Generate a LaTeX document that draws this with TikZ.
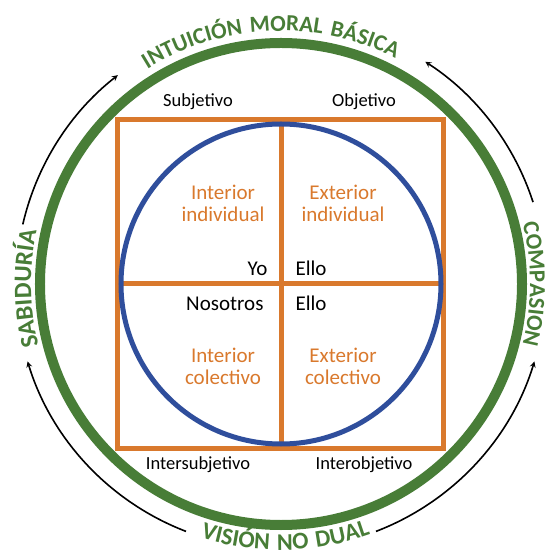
\documentclass[tikz,border=0pt]{standalone}
\usepackage{fontspec}
\setmainfont{Carlito}
\newfontfamily\ringfont[WordSpace=2.0]{Carlito}
\newfontfamily\bottomfont[WordSpace=1.4]{Carlito}
\usetikzlibrary{arrows,decorations.text}
\definecolor{ringgreen}{RGB}{72,125,55}
\definecolor{quadorange}{RGB}{217,121,45}
\definecolor{ballblue}{RGB}{47,78,156}

\begin{document}
\begin{tikzpicture}[x=1pt,y=1pt,>=stealth,
  axislabel/.style={font=\fontsize{18.5}{20}\selectfont},
  quadtext/.style={text=quadorange,align=center,font=\fontsize{21}{22}\selectfont},
  pron/.style={font=\fontsize{21}{22}\selectfont},
  flowarc/.style={->,line width=1.6pt},
  ringtext/.style 2 args={decorate,decoration={text along path,text align=center,
    text={|\ringfont\bfseries\fontsize{#1}{24}\selectfont\color{ringgreen}|#2}}}]
\useasboundingbox (-281,-272) rectangle (270,284);

% rings and quadrants
\draw[ringgreen, line width=10pt] (0,0) circle[radius=241];
\draw[quadorange, line width=5pt] (-163,-164.5) rectangle (162,164);
\draw[quadorange, line width=5pt] (0,-164.5) -- (0,164) (-163,0) -- (162,0);
\draw[ballblue, line width=5pt] (0,0) circle[radius=160];

% texts round the ring
\path[ringtext={23}{INTUICIÓN MORAL BÁSICA}] (150:253) arc[start angle=150, end angle=35, radius=253];
\path[ringtext={25}{SABIDURÍA}] (215:250) arc[start angle=215, end angle=147, radius=250];
\path[ringtext={23}{COMPASION}] (33:249) arc[start angle=33, end angle=-33, radius=249];
\path[decorate,decoration={text along path,text align=center,
  text={|\bottomfont\bfseries\fontsize{24}{24}\selectfont\color{ringgreen}|VISIÓN NO DUAL}}]
  (232:266) arc[start angle=232, end angle=310, radius=266];

% arrows between the texts
\draw[flowarc] (167:265) arc[start angle=167, end angle=128, radius=265];
\draw[flowarc] (18:265) arc[start angle=18, end angle=57, radius=265];
\draw[flowarc] (249:265) arc[start angle=249, end angle=197, radius=265];
\draw[flowarc] (291:265) arc[start angle=291, end angle=343, radius=265];

% labels
\node (subj) [axislabel] at (-83,182) {Subjetivo};
\node (obj) [axislabel, node distance=166pt, right of=subj] {Objetivo};
\node (intersubj) [axislabel] at (-83,-181) {Intersubjetivo};
\node (interobj) [axislabel, node distance=166pt, right of=intersubj] {Interobjetivo};

\node (ii) [quadtext] at (-58,81) {Interior\\individual};
\node (ei) [quadtext, node distance=120pt, right of=ii] {Exterior\\individual};
\node (ic) [quadtext, node distance=163pt, below of=ii] {Interior\\colectivo};
\node (ec) [quadtext, node distance=120pt, right of=ic] {Exterior\\colectivo};

\node (yo) [pron, anchor=base east] at (-10,8) {Yo};
\node (ello1) [pron, anchor=base west] at (11,8) {Ello};
\node (nos) [pron, anchor=base east] at (-14,-27) {Nosotros};
\node (ello2) [pron, anchor=base west] at (11,-27) {Ello};
\end{tikzpicture}
\end{document}
